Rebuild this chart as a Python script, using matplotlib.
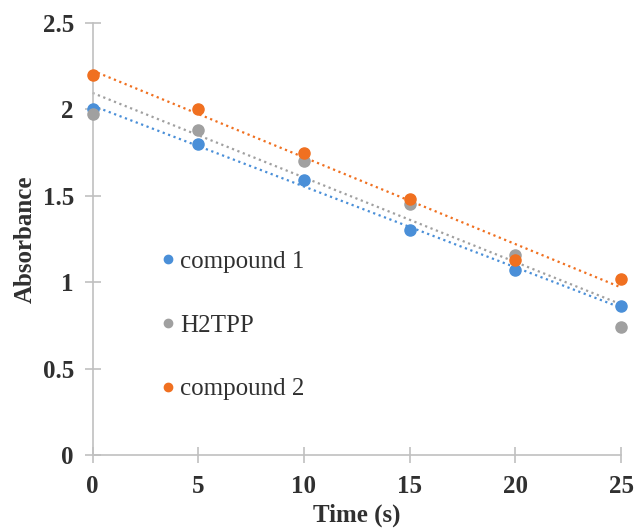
import numpy as np
import matplotlib
matplotlib.use("Agg")
import matplotlib.pyplot as plt
from matplotlib.lines import Line2D

plt.rcParams['font.family'] = ['Liberation Serif', 'DejaVu Serif']

# data
time_s = [0, 5, 10, 15, 20, 25]
compound1 = [2.00, 1.80, 1.59, 1.30, 1.07, 0.86]
h2tpp = [1.97, 1.88, 1.70, 1.45, 1.16, 0.74]
compound2 = [2.20, 2.00, 1.75, 1.48, 1.13, 1.02]

series = [
    ('compound 1', compound1, '#4a8fd8'),
    ('H2TPP', h2tpp, '#a0a0a0'),
    ('compound 2', compound2, '#f07020'),
]

fig = plt.figure(figsize=(6.35, 5.31), dpi=100)
ax = fig.add_axes([0.1457, 0.143, 0.8323, 0.814])

x = np.array(time_s, dtype=float)
for name, vals, col in series:
    # linear trendline, like the spreadsheet default
    k, b = np.polyfit(x, vals, 1)
    ax.plot(x, k * x + b, color=col, linestyle=(0, (1, 1.6)), linewidth=1.6,
            zorder=2, clip_on=False)
    ax.plot(x, vals, 'o', color=col, markersize=8, zorder=3, clip_on=False)

ax.set_xlim(0, 25)
ax.set_ylim(0, 2.5)
ax.set_xticks([0, 5, 10, 15, 20, 25])
ax.set_yticks([0, 0.5, 1, 1.5, 2, 2.5])
ax.set_yticklabels(['0', '0.5', '1', '1.5', '2', '2.5'])

for s in ['top', 'right']:
    ax.spines[s].set_visible(False)
for s in ['left', 'bottom']:
    ax.spines[s].set_color('#c0c0c0')
    ax.spines[s].set_linewidth(1.2)
ax.tick_params(direction='inout', length=11, width=1.2, color='#c0c0c0',
               labelsize=18, labelcolor='#303030')
ax.tick_params(axis='x', pad=9)
ax.tick_params(axis='y', pad=8)
for lbl in ax.get_xticklabels() + ax.get_yticklabels():
    lbl.set_fontweight('bold')

ax.set_xlabel('Time (s)', fontsize=18, fontweight='bold', color='#303030', labelpad=4)
ax.set_ylabel('Absorbance', fontsize=18, fontweight='bold', color='#303030', labelpad=4)

handles = [Line2D([], [], marker='o', linestyle='none', color=c, markersize=6)
           for _, _, c in series]
ax.legend(handles, [n for n, _, _ in series], loc='center left',
          bbox_to_anchor=(0.076, 0.30), frameon=False, fontsize=18,
          labelspacing=1.65, handletextpad=0.0, handlelength=1.0,
          labelcolor='#303030')

fig.savefig('out.png', dpi=100)
